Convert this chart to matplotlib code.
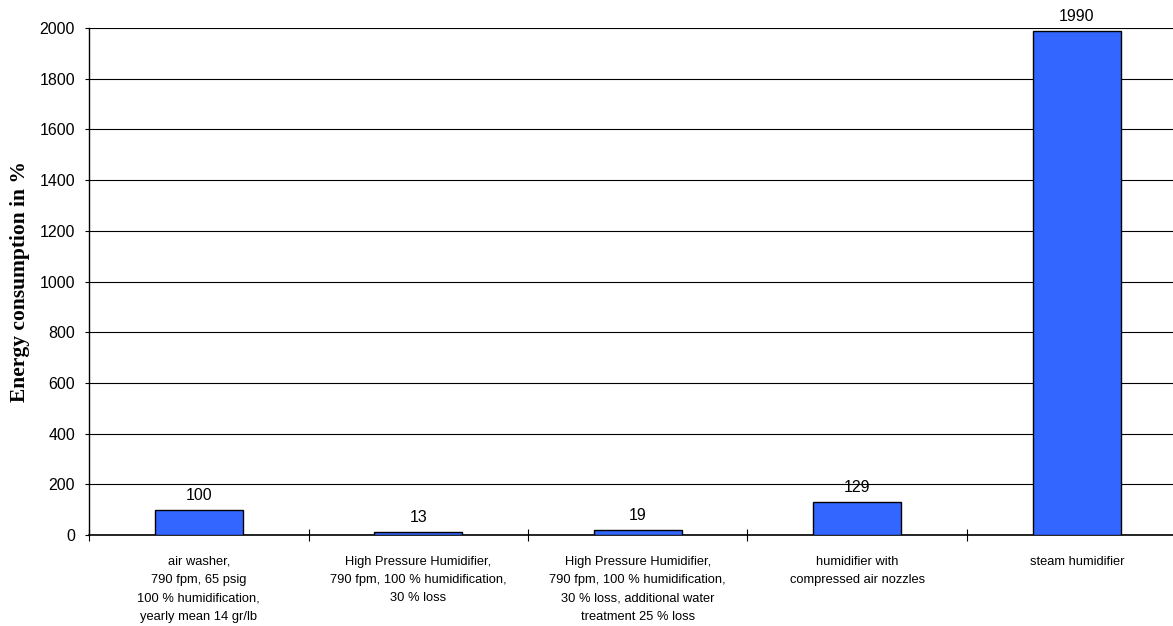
import matplotlib
matplotlib.use('Agg')
import matplotlib.pyplot as plt
from matplotlib.ticker import FixedLocator

# data
categories = [
    "air washer,\n790 fpm, 65 psig\n100 % humidification,\nyearly mean 14 gr/lb",
    "High Pressure Humidifier,\n790 fpm, 100 % humidification,\n30 % loss",
    "High Pressure Humidifier,\n790 fpm, 100 % humidification,\n30 % loss, additional water\ntreatment 25 % loss",
    "humidifier with\ncompressed air nozzles",
    "steam humidifier",
]
values = [100, 13, 19, 129, 1990]
yticks = list(range(0, 2001, 200))

W, H = 1173, 626
fig = plt.figure(figsize=(W / 100, H / 100), dpi=100)
ax = fig.add_axes([89 / W, (H - 535) / H, (W - 89) / W, (535 - 28) / H])

x = list(range(len(values)))
bars = ax.bar(x, values, width=0.4, color='#3366FF', edgecolor='black',
              linewidth=1.0, zorder=3)
ax.bar_label(bars, labels=[str(v) for v in values], padding=5,
             fontsize=11.5, family='Liberation Sans')

ax.set_ylim(0, 2000)
ax.set_xlim(-0.5, -0.5 + 1084 / 219.5)
ax.set_yticks(yticks)
ax.yaxis.grid(True, color='black', linewidth=0.8, zorder=0)
ax.set_axisbelow(True)

ax.set_xticks(x)
ax.set_xticklabels(categories, fontsize=9.3, va='top', linespacing=1.7,
                   family='Liberation Sans')
ax.xaxis.set_minor_locator(FixedLocator([-0.5, 0.5, 1.5, 2.5, 3.5, 4.5]))
ax.tick_params(axis='x', which='major', length=0, pad=15)
ax.tick_params(axis='x', which='minor', length=9, direction='inout',
               width=0.8, color='black')
ax.tick_params(axis='y', length=3, width=0.8, pad=7, labelsize=11.5)
for lab in ax.get_yticklabels():
    lab.set_family('Liberation Sans')

for s in ['top', 'right']:
    ax.spines[s].set_visible(False)
ax.spines['left'].set_linewidth(1.0)
ax.spines['bottom'].set_linewidth(1.2)

ax.set_ylabel('Energy consumption in %', fontsize=15.5, fontweight='bold',
              family='Liberation Serif')
ax.yaxis.set_label_coords((30 - 89) / 1084, 0.5)

fig.savefig('out.png', dpi=100)
